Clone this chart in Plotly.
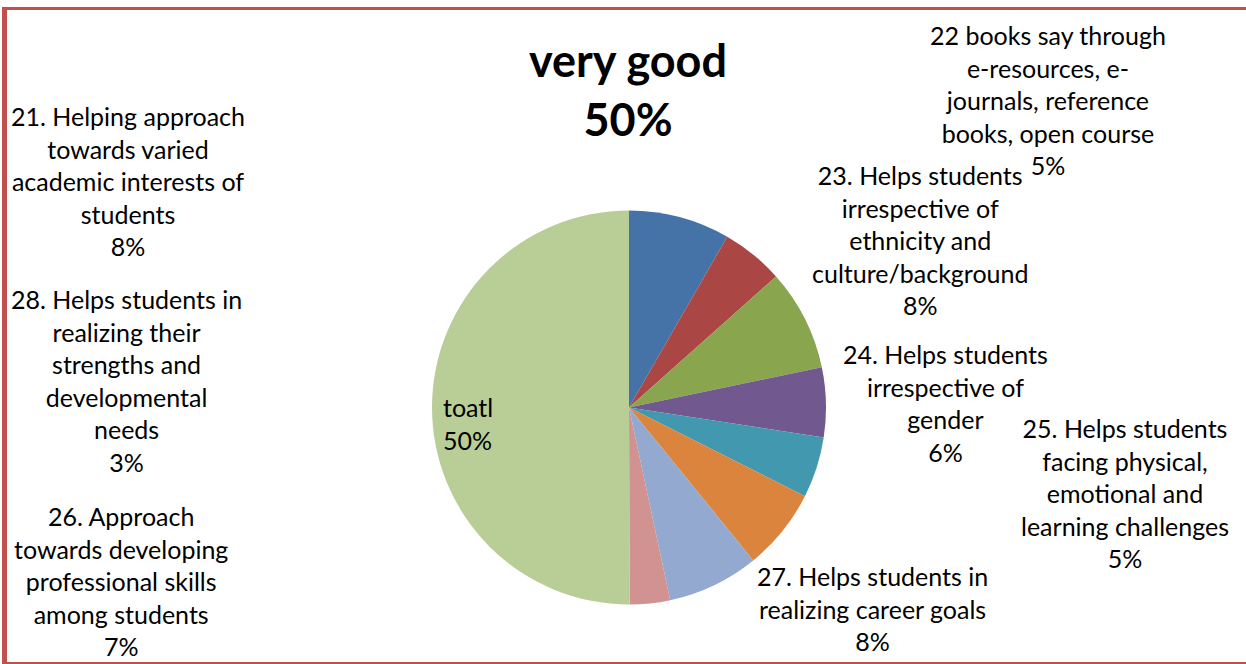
import plotly.graph_objects as go

# slice labels (chart order, clockwise from 12 o'clock)
labels = [
    "21. Helping approach<br>towards varied<br>academic interests of<br>students",
    "22 books say through<br>e-resources, e-<br>journals, reference<br>books, open course",
    "23. Helps students<br>irrespective of<br>ethnicity and<br>culture/background",
    "24. Helps students<br>irrespective of<br>gender",
    "25. Helps students<br>facing physical,<br>emotional and<br>learning challenges",
    "26. Approach<br>towards developing<br>professional skills<br>among students",
    "27. Helps students in<br>realizing career goals",
    "28. Helps students in<br>realizing their<br>strengths and<br>developmental<br>needs",
    "toatl",
]
values = [8.3, 5.1, 8.3, 5.7, 5.0, 6.7, 7.5, 3.3, 50.0]
colors = ["#4572A7", "#AA4643", "#89A54E", "#71588F", "#4198AF",
          "#DB843D", "#93A9CF", "#D19392", "#B9CD96"]

title_text = "very good<br>50%"

W, H = 1246, 664

# label block centres in pixels (x, y) and alignment
label_pos = [
    (128, 181, "center"),
    (1048, 100, "center"),
    (920, 240, "center"),
    (945, 403, "center"),
    (1125, 493, "center"),
    (121, 581, "center"),
    (872, 608, "center"),
    (126, 380, "center"),
    (468, 424, "left"),
]

total = sum(values)

fig = go.Figure()
fig.add_trace(go.Pie(
    labels=[l.replace("<br>", " ") for l in labels],
    values=values,
    sort=False,
    direction="clockwise",
    rotation=0,
    marker=dict(colors=colors, line=dict(width=0)),
    textinfo="none",
    hoverinfo="label+percent",
    showlegend=False,
    domain=dict(x=[432 / W, 826 / W], y=[1 - 605 / H, 1 - 210 / H]),
))

font = dict(family="Lato, 'Open Sans', sans-serif", size=25, color="#000000")

for lab, v, (px, py, al) in zip(labels, values, label_pos):
    txt = f"{lab}<br>{round(v / total * 100):.0f}%"
    fig.add_annotation(
        x=px / W, y=1 - py / H, xref="paper", yref="paper",
        text=txt, showarrow=False, align=al,
        xanchor="center", yanchor="middle", font=font,
    )

fig.add_annotation(
    x=628 / W, y=1 - 89 / H, xref="paper", yref="paper",
    text=f"<b>{title_text}</b>", showarrow=False, align="center",
    xanchor="center", yanchor="middle",
    font=dict(family="Lato, 'Open Sans', sans-serif", size=45, color="#000000"),
)

# chart frame
border = "#C0504D"
fig.add_shape(type="line", xref="paper", yref="paper",
              x0=4.5 / W, x1=4.5 / W, y0=0, y1=1 - 7 / H,
              line=dict(color=border, width=5))
fig.add_shape(type="line", xref="paper", yref="paper",
              x0=2 / W, x1=1, y0=1 - 8.5 / H, y1=1 - 8.5 / H,
              line=dict(color=border, width=3))
fig.add_shape(type="line", xref="paper", yref="paper",
              x0=2 / W, x1=1, y0=1 - 663 / H, y1=1 - 663 / H,
              line=dict(color=border, width=2))

fig.update_layout(
    width=W, height=H,
    margin=dict(l=0, r=0, t=0, b=0),
    paper_bgcolor="white",
    plot_bgcolor="white",
)

fig.write_html("out.html", config={"displayModeBar": False},
               post_script="document.body.style.margin='0';")
